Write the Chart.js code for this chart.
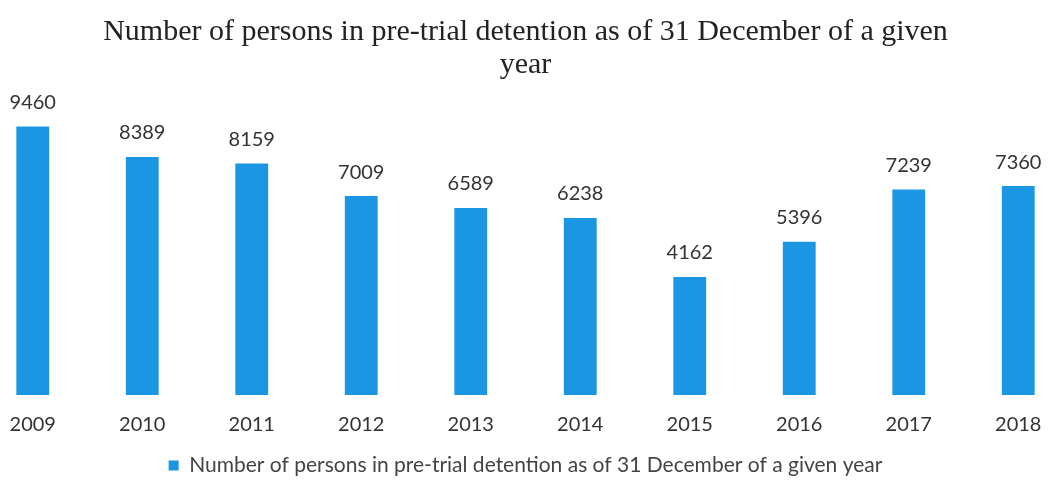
<!DOCTYPE html>
<html>
<head>
<meta charset="utf-8">
<script src="https://cdn.jsdelivr.net/npm/chart.js@4"></script>
<style>
  html, body { margin:0; padding:0; background:#fff; overflow:hidden; }
  #wrap { position:absolute; left:-22px; top:0; width:1095px; height:486px; }
</style>
</head>
<body>
<div id="wrap"><canvas id="detChart"></canvas></div>
<script>
const years = ["2009","2010","2011","2012","2013","2014","2015","2016","2017","2018"];
const persons = [9460,8389,8159,7009,6589,6238,4162,5396,7239,7360];
const seriesName = "Number of persons in pre-trial detention as of 31 December of a given year";
const titleLines = ["Number of persons in pre-trial detention as of 31 December of a given", "year"];

const barLabels = {
  id:"barLabels",
  afterDatasetsDraw(chart){
    const ctx = chart.ctx;
    const meta = chart.getDatasetMeta(0);
    ctx.save();
    ctx.font = "20px Lato, 'Open Sans', sans-serif";
    ctx.fillStyle = "#333";
    ctx.textAlign = "center";
    ctx.textBaseline = "middle";
    meta.data.forEach(function(bar, i){
      ctx.fillText(persons[i], bar.x, bar.y - 24);
    });
    ctx.restore();
  }
};

window.onload = function(){
  const detCtx = document.getElementById("detChart");
  new Chart(detCtx,{
    type:"bar",
    data:{
      labels:years,
      datasets:[{
        label:seriesName,
        data:persons,
        backgroundColor:"#1b96e2",
        barPercentage:0.6,
        categoryPercentage:0.5
      }]
    },
    options:{
      responsive:true,
      maintainAspectRatio:false,
      animation:false,
      layout:{ padding:{ top:0, bottom:0, left:0, right:0 } },
      plugins:{
        title:{
          display:true,
          text:titleLines,
          color:"#222",
          font:{ family:"'Liberation Serif', serif", size:30, weight:"normal", lineHeight:1.12 },
          padding:{ top:15, bottom:29 }
        },
        legend:{
          position:"bottom",
          labels:{
            color:"#444",
            font:{ family:"Lato, 'Open Sans', sans-serif", size:21 },
            boxWidth:10, boxHeight:10,
            padding:8
          }
        },
        tooltip:{ enabled:false }
      },
      scales:{
        x:{
          grid:{ display:false },
          border:{ display:false },
          ticks:{ color:"#333", font:{ family:"Lato, 'Open Sans', sans-serif", size:20 }, padding:10 }
        },
        y:{
          display:false,
          min:0,
          max:10000
        }
      }
    },
    plugins:[barLabels]
  });
};
</script>
</body>
</html>
